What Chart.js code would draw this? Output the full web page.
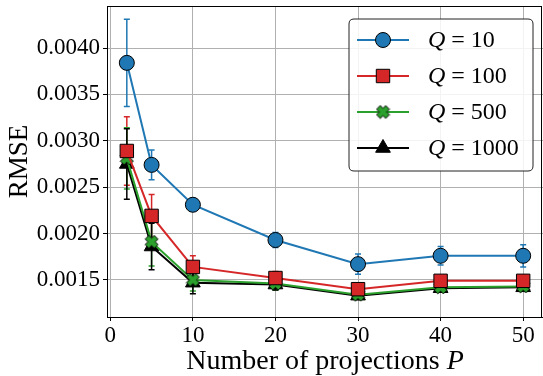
<!DOCTYPE html>
<html><head><meta charset="utf-8">
<script src="https://cdn.jsdelivr.net/npm/chart.js@4/dist/chart.umd.min.js"></script>
<style>html,body{margin:0;padding:0;background:#fff}</style>
</head><body>
<canvas id="c" width="543" height="376" style="width:543px;height:376px;display:block"></canvas>
<script>
const projections = [2, 5, 10, 20, 30, 40, 50];
const qLabels = ['10', '100', '500', '1000'];
const rmseQ10   = [0.00384, 0.00274, 0.00231, 0.00193, 0.00167, 0.00176, 0.00176];
const errQ10    = [0.00047, 0.00016, 0.00007, 0.00008, 0.00011, 0.00010, 0.00012];
const rmseQ100  = [0.00289, 0.00219, 0.00164, 0.00152, 0.00140, 0.00149, 0.00149];
const errQ100   = [0.00037, 0.00023, 0.00012, 0.00007, 0.00005, 0.00005, 0.00006];
const rmseQ500  = [0.00281, 0.00191, 0.00150, 0.00146, 0.00134, 0.00142, 0.00143];
const errQ500   = [0.00033, 0.00026, 0.00012, 0.00007, 0.00004, 0.00004, 0.00004];
const rmseQ1000 = [0.00275, 0.00186, 0.00147, 0.00145, 0.00133, 0.00141, 0.00142];
const errQ1000  = [0.00038, 0.00025, 0.00012, 0.00006, 0.00004, 0.00004, 0.00004];
const xTicks = [0, 10, 20, 30, 40, 50];
const yTicks = [0.0015, 0.0020, 0.0025, 0.0030, 0.0035, 0.0040];

const FONT = "'Liberation Serif', 'DejaVu Serif', serif";

// filled X marker
function makeX(size, fill) {
  const c = document.createElement('canvas');
  c.width = size + 2; c.height = size + 2;
  const g = c.getContext('2d');
  const cx = c.width / 2, cy = c.height / 2, r = size / 2, w = size * 0.2;
  g.translate(cx, cy); g.rotate(Math.PI / 4);
  g.beginPath();
  const pts = [[-w,-r],[w,-r],[w,-w],[r,-w],[r,w],[w,w],[w,r],[-w,r],[-w,w],[-r,w],[-r,-w],[-w,-w]];
  pts.forEach((p,i)=> i ? g.lineTo(p[0],p[1]) : g.moveTo(p[0],p[1]));
  g.closePath();
  g.fillStyle = fill; g.fill();
  g.lineWidth = 0.9; g.strokeStyle = '#000'; g.stroke();
  return c;
}
const xMarker = makeX(13, '#2ca02c');

const series = [
  {q: qLabels[0], y: rmseQ10, e: errQ10, color: '#1f77b4', style: 'circle', r: 7.5},
  {q: qLabels[1], y: rmseQ100, e: errQ100, color: '#d62728', style: 'rect', r: 9.5},
  {q: qLabels[2], y: rmseQ500, e: errQ500, color: '#2ca02c', style: xMarker, r: 7},
  {q: qLabels[3], y: rmseQ1000, e: errQ1000, color: '#000000', style: 'triangle', r: 8.5},
];

const datasets = series.map(s => ({
  label: 'Q = ' + s.q,
  data: projections.map((p, i) => ({x: p, y: s.y[i]})),
  errs: s.e,
  borderColor: s.color,
  backgroundColor: s.color,
  borderWidth: 2,
  pointStyle: s.style,
  pointRadius: s.r,
  pointHoverRadius: s.r,
  pointBackgroundColor: s.color,
  pointBorderColor: '#000',
  pointBorderWidth: 1,
  tension: 0,
  fill: false,
}));

const errorBars = {
  id: 'errorBars',
  beforeDatasetsDraw(chart) {
    const ctx = chart.ctx, xs = chart.scales.x, ys = chart.scales.y;
    ctx.save();
    chart.data.datasets.forEach(ds => {
      ctx.strokeStyle = ds.borderColor;
      ctx.lineWidth = 1.5;
      ds.data.forEach((pt, i) => {
        const x = xs.getPixelForValue(pt.x);
        const y1 = ys.getPixelForValue(pt.y + ds.errs[i]);
        const y2 = ys.getPixelForValue(pt.y - ds.errs[i]);
        ctx.beginPath();
        ctx.moveTo(x, y1); ctx.lineTo(x, y2);
        ctx.moveTo(x - 3, y1); ctx.lineTo(x + 3, y1);
        ctx.moveTo(x - 3, y2); ctx.lineTo(x + 3, y2);
        ctx.stroke();
      });
    });
    ctx.restore();
  }
};

function mixedText(ctx, parts, x, y, size, align) {
  const w = parts.reduce((a, p) => { ctx.font = (p[1] ? 'italic ' : '') + size + 'px ' + FONT; return a + ctx.measureText(p[0]).width; }, 0);
  let cx = align === 'center' ? x - w / 2 : x;
  ctx.textAlign = 'left';
  parts.forEach(p => {
    ctx.font = (p[1] ? 'italic ' : '') + size + 'px ' + FONT;
    ctx.fillText(p[0], cx, y);
    cx += ctx.measureText(p[0]).width;
  });
}

const frameAndLegend = {
  id: 'frameAndLegend',
  afterDraw(chart) {
    const ctx = chart.ctx, a = chart.chartArea;
    ctx.save();
    ctx.strokeStyle = '#000'; ctx.lineWidth = 1;
    ctx.strokeRect(Math.round(a.left) + 0.5, Math.round(a.top) + 0.5, Math.round(a.right - a.left) - 2, Math.round(a.bottom - a.top));
    ctx.fillStyle = '#000';
    ctx.textBaseline = 'alphabetic';
    mixedText(ctx, [['Number of projections ', false], ['P', true]], (a.left + a.right) / 2, 369, 28, 'center');
    // legend
    const lx = 349, ly = 19, lw = 184, lh = 152, rr = 5;
    ctx.beginPath();
    ctx.moveTo(lx + rr, ly); ctx.lineTo(lx + lw - rr, ly); ctx.quadraticCurveTo(lx + lw, ly, lx + lw, ly + rr);
    ctx.lineTo(lx + lw, ly + lh - rr); ctx.quadraticCurveTo(lx + lw, ly + lh, lx + lw - rr, ly + lh);
    ctx.lineTo(lx + rr, ly + lh); ctx.quadraticCurveTo(lx, ly + lh, lx, ly + lh - rr);
    ctx.lineTo(lx, ly + rr); ctx.quadraticCurveTo(lx, ly, lx + rr, ly);
    ctx.closePath();
    ctx.fillStyle = 'rgba(255,255,255,0.85)'; ctx.fill();
    ctx.strokeStyle = '#222'; ctx.lineWidth = 1; ctx.stroke();
    const rows = [40, 76, 112, 148];
    chart.data.datasets.forEach((ds, i) => {
      const y = rows[i];
      ctx.strokeStyle = ds.borderColor; ctx.lineWidth = 2;
      ctx.beginPath(); ctx.moveTo(357, y); ctx.lineTo(409, y); ctx.stroke();
      ctx.fillStyle = ds.pointBackgroundColor; ctx.strokeStyle = '#000'; ctx.lineWidth = 1;
      Chart.helpers.drawPoint(ctx, {pointStyle: ds.pointStyle, radius: ds.pointRadius, rotation: 0, borderWidth: 1}, 383, y);
      ctx.fillStyle = '#000'; ctx.textBaseline = 'middle';
      mixedText(ctx, [['Q', true], [' = ' + series[i].q, false]], 428, y + 1, 24, 'left');
    });
    ctx.restore();
  }
};

new Chart(document.getElementById('c'), {
  type: 'line',
  data: {datasets},
  options: {
    responsive: false,
    animation: false,
    devicePixelRatio: 1,
    layout: {autoPadding: false, padding: {top: 6, right: 0, left: 0, bottom: 0}},
    plugins: {legend: {display: false}, tooltip: {enabled: false}},
    scales: {
      x: {
        type: 'linear', min: -0.4, max: 52.4,
        afterBuildTicks: s => { s.ticks = xTicks.map(v => ({value: v})); },
        afterFit: s => { s.height = 59; s.paddingLeft = 0; s.paddingRight = 0; },
        grid: {color: '#b0b0b0', lineWidth: 1, tickColor: '#000', tickLength: 4, drawTicks: true},
        border: {color: '#000', width: 1},
        ticks: {color: '#000', font: {family: FONT, size: 23}, padding: 1, maxRotation: 0,
          callback: v => String(v)}
      },
      y: {
        type: 'linear', min: 0.0011, max: 0.004453,
        afterBuildTicks: s => { s.ticks = yTicks.map(v => ({value: v})); },
        afterFit: s => { s.width = 107; s.paddingTop = 0; s.paddingBottom = 0; },
        grid: {color: '#b0b0b0', lineWidth: 1, tickColor: '#000', tickLength: 4, drawTicks: true},
        border: {color: '#000', width: 1},
        title: {display: true, text: 'RMSE', color: '#000', font: {family: FONT, size: 27}, padding: {top: 4, bottom: 0}},
        ticks: {color: '#000', font: {family: FONT, size: 23}, padding: 3,
          callback: v => v.toFixed(4)}
      }
    }
  },
  plugins: [errorBars, frameAndLegend]
});
</script>
</body></html>
